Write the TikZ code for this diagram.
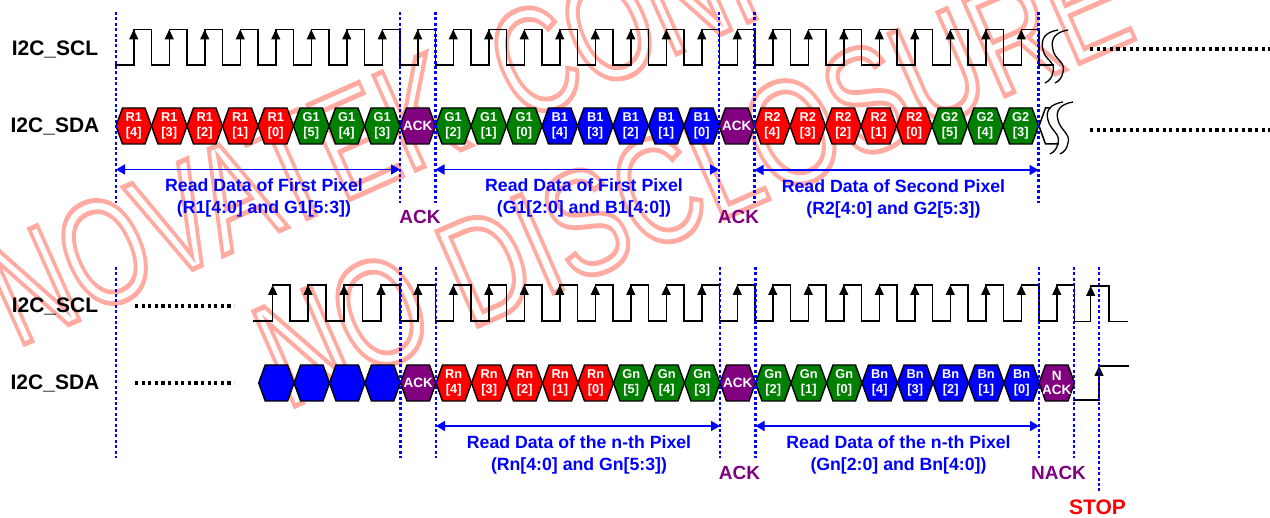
\documentclass[tikz,border=0pt]{standalone}
\usepackage{fontspec}
\setmainfont{Liberation Sans}
\usetikzlibrary{arrows.meta}
\definecolor{hgreen}{RGB}{0,128,0}
\definecolor{hpurple}{RGB}{128,0,128}
\tikzset{
  hexline/.style={draw=black,line width=1.4pt,line join=miter},
  hextext/.style={text=white,font=\bfseries\fontsize{12.8}{15.5}\selectfont,align=center,inner sep=0pt},
  acktext/.style={text=white,font=\bfseries\fontsize{13.5}{13.5}\selectfont,align=center,inner sep=0pt},
  sigtext/.style={font=\bfseries\fontsize{21}{21}\selectfont,text=black,inner sep=0pt},
  captext/.style={font=\bfseries\fontsize{17.7}{21.5}\selectfont,text=blue,align=center,inner sep=0pt},
  marktext/.style={font=\bfseries\fontsize{19}{19}\selectfont,text=hpurple,inner sep=0pt},
  stoptext/.style={font=\bfseries\fontsize{21}{21}\selectfont,text=red,inner sep=0pt},
  wave/.style={draw=black,line width=1.5pt,line join=miter,line cap=rect},
  edgearrow/.style={draw=black,line width=1.5pt,-{Triangle[length=10pt,width=9pt]}},
  vdot/.style={draw=blue,line width=2.6pt,dash pattern=on 3pt off 2.4pt},
  hdot/.style={draw=black,line width=3.8pt,dash pattern=on 3.2pt off 3.4pt},
  spanline/.style={draw=blue,line width=1.7pt,{Triangle[length=9pt,width=10pt]}-{Triangle[length=9pt,width=10pt]}},
  squig/.style={draw=black,line width=1.3pt},
  wmk/.style={inner sep=0pt,anchor=base west},
}
\newcommand\hexa[6]{%
  \path[hexline,fill=#4] (#2,#3) -- ++(6.5,-18) -- ++(22.5,0) -- ++(6.5,18) -- ++(-6.5,18) -- ++(-22.5,0) -- cycle;
  \node[hextext] (#1) at ({#2+17.75},#3) {#5\\{}[#6]};
}
\newcommand\hexrow[6]{% prefix,startx,cy,color,letter,digits
  \foreach \d [count=\k from 0] in {#6}{\hexa{#1\k}{#2+35.5*\k}{#3}{#4}{#5}{\d}}
}
\newcommand\ackhex[4]{%
  \path[hexline,fill=hpurple] (#2,#3) -- ++(6.5,-18) -- ++(22.5,0) -- ++(6.5,18) -- ++(-6.5,18) -- ++(-22.5,0) -- cycle;
  \node[acktext] (#1) at ({#2+17.75},#3) {#4};
}
\newcommand\pulse[3]{% x, low, high
  \draw[wave] (#1,#2) -- ({#1+17.75},#2) -- ({#1+17.75},#3) -- ({#1+35.5},#3) -- ({#1+35.5},#2);
  \draw[edgearrow] ({#1+17.75},#2) -- ({#1+17.75},#3);
}
\newcommand\wmktext[1]{\special{pdf:code q 1 Tr 5 w 1 0.67 0.63 RG}\mdseries\fontsize{150}{150}\selectfont #1\special{pdf:code Q}}
\begin{document}
\begin{tikzpicture}[x=1pt,y=-1pt]
\useasboundingbox (0,0) rectangle (1270,518);
\begin{scope}
\clip (0,0) rectangle (1270,518);
\node[wmk,rotate=24] (wm1) at (16,348) {\scalebox{0.72}[1]{\wmktext{NOVATEK\kern 30pt{} CONFIDENTIAL}}};
\node[wmk,rotate=23.6] (wm2) at (286,410) {\scalebox{0.75}[1]{\wmktext{NO DISCLOSURE}}};
\end{scope}
% signal names
\node[sigtext] (sclA) at (55,49) {I2C\_SCL};
\node[sigtext] (sdaA) at (55,126) {I2C\_SDA};
\node[sigtext] (sclB) at (55,306) {I2C\_SCL};
\node[sigtext] (sdaB) at (55,383) {I2C\_SDA};
% top SCL
\foreach \k in {0,...,25}{\pulse{116+35.5*\k}{65}{29.5}}
\draw[wave] (1039,65) -- (1053,65);
% top SDA
\hexrow{a}{116}{126}{red}{R1}{4,3,2,1,0}
\hexrow{b}{293.5}{126}{hgreen}{G1}{5,4,3}
\ackhex{c}{400}{126}{ACK}
\hexrow{d}{435.5}{126}{hgreen}{G1}{2,1,0}
\hexrow{e}{542}{126}{blue}{B1}{4,3,2,1,0}
\ackhex{f}{719}{126}{ACK}
\hexrow{g}{754.5}{126}{red}{R2}{4,3,2,1,0}
\hexrow{h}{932}{126}{hgreen}{G2}{5,4,3}
\draw[wave] (1039,126) -- (1045.5,108) -- (1050,108);
\draw[wave] (1039,126) -- (1045.5,144) -- (1058,144);
% squiggles
\draw[squig] (1058,30) .. controls (1046,32) and (1040,38) .. (1043,50) .. controls (1045,60) and (1056,62) .. (1053,72) .. controls (1052,78) and (1049,81) .. (1045,83);
\draw[squig] (1068,30) .. controls (1056,32) and (1050,38) .. (1053,50) .. controls (1055,60) and (1066,62) .. (1063,72) .. controls (1062,78) and (1059,81) .. (1055,83);
\draw[squig] (1063,102) .. controls (1051,104) and (1045,110) .. (1048,120) .. controls (1050,130) and (1061,134) .. (1058,143) .. controls (1057,149) and (1054,152) .. (1050,154);
\draw[squig] (1073,102) .. controls (1061,104) and (1055,110) .. (1058,120) .. controls (1060,130) and (1071,134) .. (1068,143) .. controls (1067,149) and (1064,152) .. (1060,154);
% continuation dots
\coordinate (dA1) at (1090,49); \coordinate (dA2) at (1270,49);
\coordinate (dB1) at (1090,130); \coordinate (dB2) at (1270,130);
\coordinate (dC1) at (135,305.7); \coordinate (dC2) at (234,305.7);
\coordinate (dD1) at (135,382.7); \coordinate (dD2) at (234,382.7);
\draw[hdot] (dA1) -- (dA2);
\draw[hdot] (dB1) -- (dB2);
\draw[hdot] (dC1) -- (dC2);
\draw[hdot] (dD1) -- (dD2);
% bottom SCL
\draw[wave] (254,321) -- (272.7,321) -- (272.7,285) -- (290,285) -- (290,321) -- (308,321) -- (308,285) -- (326,285) -- (326,321) -- (344,321) -- (344,285) -- (362.7,285) -- (362.7,321) -- (381,321) -- (381,285) -- (400,285) -- (400,321);
\foreach \x in {272.7,308,344,381}{\draw[edgearrow] (\x,321) -- (\x,285);}
\foreach \k in {0,...,18}{\pulse{400+35.5*\k}{321}{285}}
\draw[wave] (1074,321.7) -- (1090.7,321.7) -- (1090.7,286) -- (1109,286) -- (1109,321.7) -- (1127,321.7);
\draw[edgearrow] (1090.7,321.7) -- (1090.7,286);
% bottom SDA
\foreach \k in {0,...,3}{\path[hexline,fill=blue] ({258.7+35.4*\k},383) -- ++(6.5,-18) -- ++(22.4,0) -- ++(6.5,18) -- ++(-6.5,18) -- ++(-22.4,0) -- cycle;}
\ackhex{i}{400.5}{383}{ACK}
\hexrow{j}{436}{383}{red}{Rn}{4,3,2,1,0}
\hexrow{k}{613.5}{383}{hgreen}{Gn}{5,4,3}
\ackhex{l}{720}{383}{ACK}
\hexrow{m}{755.5}{383}{hgreen}{Gn}{2,1,0}
\hexrow{n}{862}{383}{blue}{Bn}{4,3,2,1,0}
\ackhex{o}{1039}{383}{N\\ACK}
\draw[wave] (1074,400) -- (1099,400);
\draw[edgearrow] (1099,400) -- (1099,366);
\draw[wave] (1099,366) -- (1128,366);
% vertical markers
\foreach \n/\x in {a/116,b/400,c/435.5,d/719,e/754.5,f/1038.5}{
  \coordinate (t\n) at (\x,12); \coordinate (u\n) at (\x,203);
  \draw[vdot] (t\n) -- (u\n);}
\foreach \n/\x in {g/116,h/400.5,i/436,j/720,k/755.5,l/1039,m/1074}{
  \coordinate (t\n) at (\x,267); \coordinate (u\n) at (\x,458);
  \draw[vdot] (t\n) -- (u\n);}
\coordinate (tn) at (1099,267); \coordinate (un) at (1099,493);
\draw[vdot] (tn) -- (un);
% spans
\foreach \n/\a/\b/\y in {p/116/400/169.5,q/435.5/719/169.5,r/754.5/1038.5/170,s/436/720/426,v/755.5/1039/426}{
  \coordinate (\n1) at (\a,\y); \coordinate (\n2) at (\b,\y);
  \draw[spanline] (\n1) -- (\n2);}
% captions
\node[captext] (capA) at (264,198) {Read Data of First Pixel\\(R1[4:0] and G1[5:3])};
\node[captext] (capB) at (584,198) {Read Data of First Pixel\\(G1[2:0] and B1[4:0])};
\node[captext] (capC) at (893.5,199) {Read Data of Second Pixel\\(R2[4:0] and G2[5:3])};
\node[captext] (capD) at (579,455) {Read Data of the n-th Pixel\\(Rn[4:0] and Gn[5:3])};
\node[captext] (capE) at (898.5,455) {Read Data of the n-th Pixel\\(Gn[2:0] and Bn[4:0])};
% event labels
\node[marktext] (ackA) at (420,217) {ACK};
\node[marktext] (ackB) at (738.5,217) {ACK};
\node[marktext] (ackC) at (739.5,473) {ACK};
\node[marktext] (nack) at (1058.5,473) {NACK};
\node[stoptext] (stop) at (1097.5,507) {STOP};
\end{tikzpicture}
\end{document}
